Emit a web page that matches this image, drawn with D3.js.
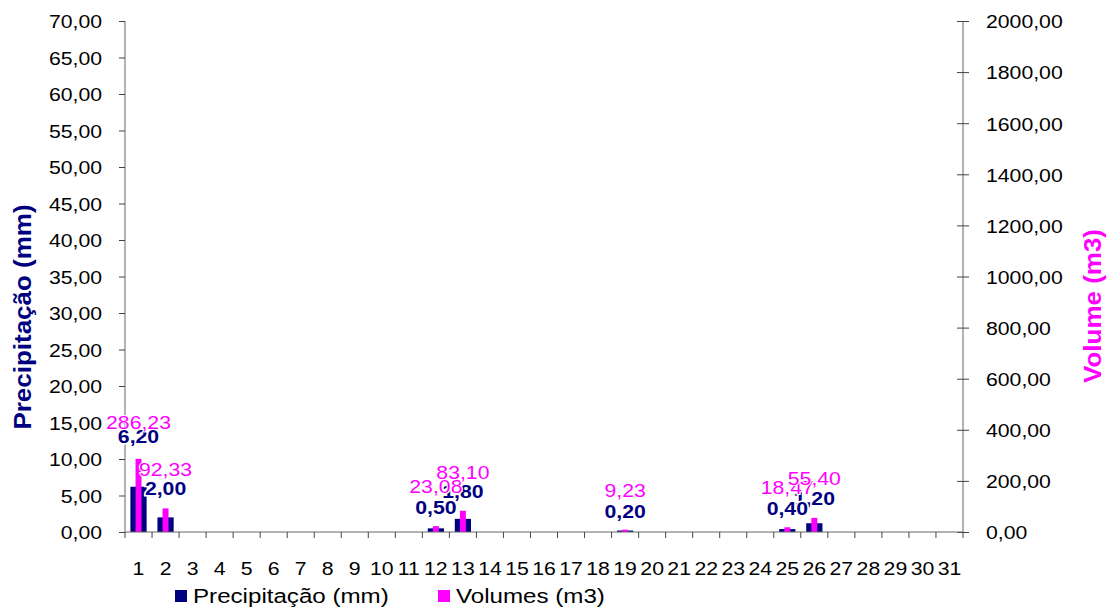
<!DOCTYPE html>
<html><head><meta charset="utf-8">
<script src="https://cdn.jsdelivr.net/npm/d3@7"></script>
<style>
html,body{margin:0;padding:0;background:#fff;}
text{font-family:"Liberation Sans",Arial,sans-serif;}
</style></head>
<body><svg id="c" width="1110" height="610"></svg>
<script>
const days = d3.range(1, 32).map(String);
const precipitacao = [6.2,2.0,0,0,0,0,0,0,0,0,0,0.5,1.8,0,0,0,0,0,0.2,0,0,0,0,0,0.4,1.2,0,0,0,0,0];
const volumes = [286.23,92.33,0,0,0,0,0,0,0,0,0,23.08,83.10,0,0,0,0,0,9.23,0,0,0,0,0,18.47,55.40,0,0,0,0,0];
const leftTicks = d3.range(0, 70.001, 5);
const rightTicks = d3.range(0, 2000.001, 200);
const seriesNames = ["Precipitação (mm)", "Volumes (m3)"];
const colors = ["#000080", "#FF00FF"];

const loc = d3.formatLocale({decimal:",", thousands:"", grouping:[3], currency:["",""]});
const fmt = loc.format(".2f");
const SX = 1.18;

const svg = d3.select("#c");
const L = 125, R = 963, T = 21, B = 532;
const x = d3.scaleBand().domain(days).range([L, R]).padding(0);
const yL = d3.scaleLinear().domain([0, 70]).range([B, T]);
const yR = d3.scaleLinear().domain([0, 2000]).range([B, T]);
// label placement scales (as in the original chart's label layout)
const yLabB = d3.scaleLinear().domain([0, 70]).range([520, 520 - 875]);
const yLabM = d3.scaleLinear().domain([0, 2000]).range([499, 499 - 488]);

const bw = x.bandwidth();
const data = days.map((d, i) => ({d, p: precipitacao[i], v: volumes[i]}));

// bars
svg.append("g").selectAll("rect").data(data).join("rect")
  .attr("x", d => x(d.d) + bw * 0.2).attr("width", bw * 0.6)
  .attr("y", d => yL(d.p)).attr("height", d => B - yL(d.p))
  .attr("fill", colors[0]);
svg.append("g").selectAll("rect").data(data).join("rect")
  .attr("x", d => x(d.d) + bw * 0.39).attr("width", bw * 0.22)
  .attr("y", d => yR(d.v)).attr("height", d => B - yR(d.v))
  .attr("fill", colors[1]);

// axes
const axL = svg.append("g").attr("transform", `translate(${L},0)`)
  .call(d3.axisLeft(yL).tickValues(leftTicks).tickSize(6).tickFormat(fmt));
axL.selectAll("text").attr("x", -23 / SX).attr("dy", "0.38em")
  .attr("transform", `scale(${SX},1)`).style("font-size", "18px").attr("fill", "#000");
const axR = svg.append("g").attr("transform", `translate(${R},0)`)
  .call(d3.axisRight(yR).tickValues(rightTicks).tickSize(6).tickFormat(fmt));
axR.selectAll(".tick line").attr("x1", -6).attr("x2", 6);
axR.selectAll("text").attr("x", 23 / SX).attr("dy", "0.38em")
  .attr("transform", `scale(${SX},1)`).style("font-size", "18px").attr("fill", "#000");
[axL, axR].forEach(a => {
  a.select(".domain").attr("stroke", "#666").attr("d", `M0,${T}V${B}`);
  a.selectAll(".tick line").attr("stroke", "#444");
});

// x axis
const gx = svg.append("g");
gx.append("line").attr("x1", L).attr("x2", R).attr("y1", B).attr("y2", B).attr("stroke", "#666");
gx.selectAll(".tk").data(days.concat(["end"])).join("line").attr("class", "tk")
  .attr("x1", d => d === "end" ? R : x(d)).attr("x2", d => d === "end" ? R : x(d))
  .attr("y1", B).attr("y2", B + 6).attr("stroke", "#444");
gx.selectAll("text").data(days).join("text")
  .attr("transform", d => `translate(${x(d) + bw / 2},575) scale(${SX},1)`)
  .attr("text-anchor", "middle").style("font-size", "18px").text(d => d);

// data labels
const nzP = data.filter(d => d.p > 0).reverse();
const nzV = data.filter(d => d.v > 0);
svg.append("g").selectAll("text").data(nzP).join("text")
  .attr("transform", d => `translate(${x(d.d) + bw / 2},${yLabB(d.p)}) scale(${SX},1)`)
  .attr("text-anchor", "middle").style("font-size", "18px").style("font-weight", "bold")
  .attr("fill", colors[0]).attr("stroke", "#fff").attr("stroke-width", 3).attr("paint-order", "stroke")
  .text(d => fmt(d.p));
svg.append("g").selectAll("text").data(nzV).join("text")
  .attr("transform", d => `translate(${x(d.d) + bw / 2},${yLabM(d.v)}) scale(${SX},1)`)
  .attr("text-anchor", "middle").style("font-size", "18px")
  .attr("fill", colors[1]).attr("stroke", "#fff").attr("stroke-width", 2).attr("paint-order", "stroke")
  .text(d => fmt(d.v));

// axis titles
svg.append("text").attr("transform", `translate(31,317) rotate(-90) scale(1.13,1)`)
  .attr("text-anchor", "middle").style("font-size", "23px").style("font-weight", "bold")
  .attr("fill", colors[0]).text("Precipitação (mm)");
svg.append("text").attr("transform", `translate(1101,306) rotate(-90) scale(1.13,1)`)
  .attr("text-anchor", "middle").style("font-size", "23px").style("font-weight", "bold")
  .attr("fill", colors[1]).text("Volume (m3)");

// legend
const legX = [175, 438];
const lg = svg.append("g").selectAll("g").data(seriesNames).join("g")
  .attr("transform", (d, i) => `translate(${legX[i]},590)`);
lg.append("rect").attr("width", 12).attr("height", 12).attr("fill", (d, i) => colors[i]);
lg.append("text").attr("transform", `translate(18,13) scale(1.15,1)`)
  .style("font-size", "21px").attr("fill", "#000").text(d => d);
</script></body></html>
